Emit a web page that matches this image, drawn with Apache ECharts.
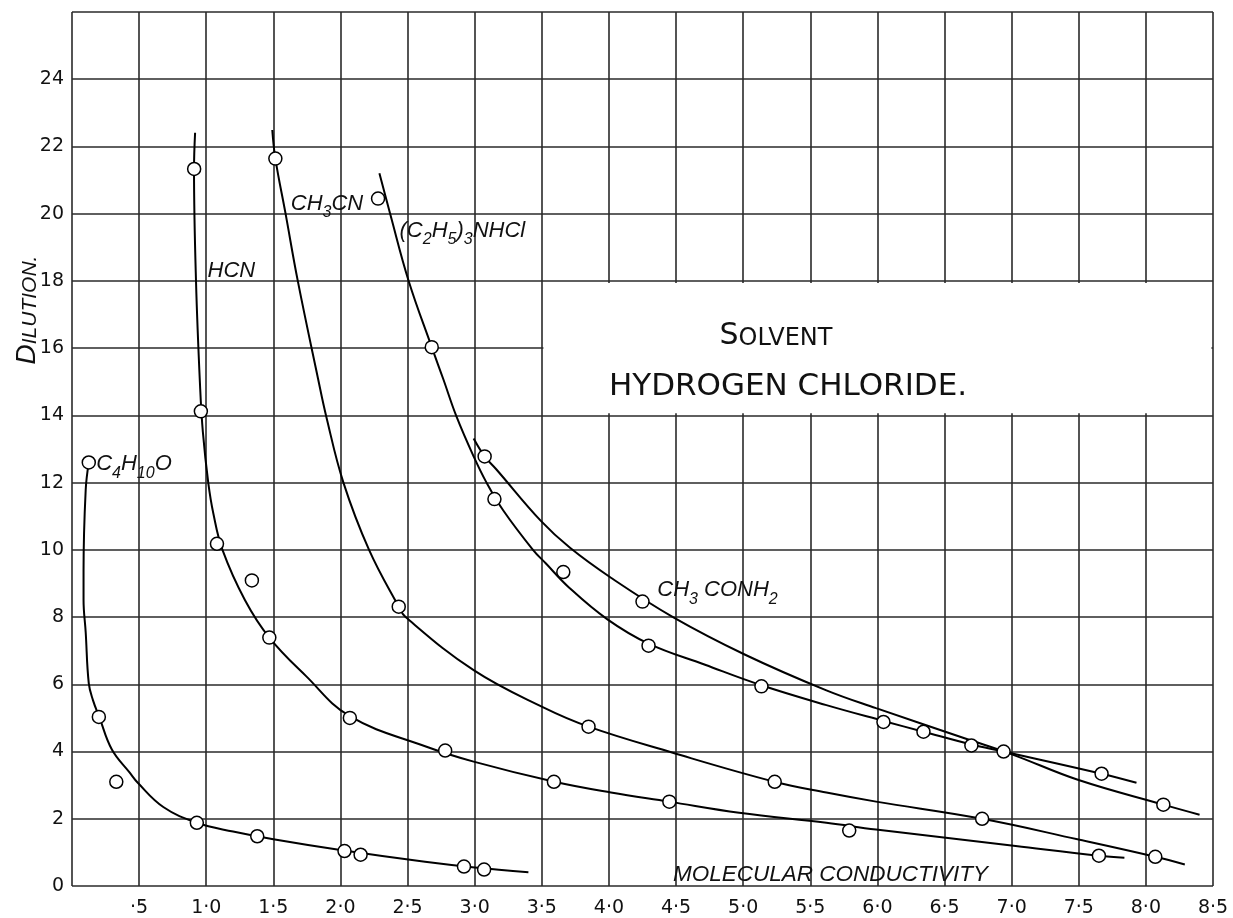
<!DOCTYPE html>
<html>
<head>
<meta charset="utf-8">
<script src="https://cdn.jsdelivr.net/npm/echarts@6/dist/echarts.min.js"></script>
<style>
html,body{margin:0;padding:0;background:#fff;}
#chart{width:1233px;height:918px;}
</style>
</head>
<body>
<div id="chart"></div>
<script>
// ---- tick labels ----
const xTickLabels = ['', '·5', '1·0', '1·5', '2·0', '2·5', '3·0', '3·5', '4·0', '4·5', '5·0', '5·5', '6·0', '6·5', '7·0', '7·5', '8·0', '8·5'];
const yTickLabels = ['0', '2', '4', '6', '8', '10', '12', '14', '16', '18', '20', '22', '24', ''];

// ---- C4H10O ----
const c4h10oPoints = [[0.125,12.6],[0.2,5.03],[0.33,3.1],[0.93,1.88],[1.38,1.48],[2.03,1.04],[2.15,0.93],[2.92,0.58],[3.07,0.49]];
const c4h10oCurve = [[0.125,12.6],[0.102,11.78],[0.086,9.37],[0.086,8.51],[0.102,7.55],[0.125,6.03],[0.156,5.53],[0.203,5.03],[0.297,4.06],[0.43,3.37],[0.49,3.07],[0.68,2.35],[0.93,1.88],[1.2,1.62],[1.5,1.39],[2.0,1.07],[2.63,0.72],[3.0,0.55],[3.4,0.41]];

// ---- HCN ----
const hcnPoints = [[0.91,21.33],[0.96,14.12],[1.08,10.18],[1.34,9.09],[1.47,7.39],[2.07,5.0],[2.78,4.03],[3.59,3.1],[4.45,2.51],[5.79,1.65],[7.65,0.9]];
const hcnCurve = [[0.917,22.41],[0.909,21.33],[0.924,17.97],[0.955,14.79],[0.975,13.5],[1.015,12],[1.053,11.08],[1.121,10],[1.288,8.51],[1.47,7.39],[1.742,6.25],[2.066,5.06],[2.636,4.15],[2.992,3.7],[3.594,3.1],[4.015,2.78],[4.447,2.51],[4.97,2.18],[5.62,1.88],[5.99,1.68],[7.03,1.19],[7.65,0.9],[7.84,0.84]];

// ---- CH3CN ----
const ch3cnPoints = [[1.515,21.64],[2.434,8.31],[3.848,4.74],[5.235,3.1],[6.78,2.0],[8.07,0.87]];
const ch3cnCurve = [[1.492,22.49],[1.515,21.64],[1.591,20],[1.682,18],[1.833,15.09],[1.894,13.97],[2.022,12],[2.213,10],[2.434,8.31],[2.485,8],[2.992,6.42],[3.507,5.32],[3.848,4.74],[4.47,3.97],[5.235,3.1],[5.62,2.78],[5.99,2.51],[6.78,2.0],[7.49,1.39],[8.07,0.87],[8.29,0.64]];

// ---- (C2H5)3NHCl ----
const tehPoints = [[2.28,20.45],[2.68,16.03],[3.147,11.51],[3.66,9.34],[4.295,7.15],[5.136,5.94],[6.045,4.88],[6.343,4.59],[6.70,4.18],[6.94,4.0],[7.67,3.34]];
const tehCurve = [[2.29,21.2],[2.37,20],[2.508,18],[2.68,16.03],[2.765,15.09],[2.864,13.97],[2.992,12.78],[3.088,12],[3.213,11.17],[3.434,10],[3.529,9.6],[3.70,8.89],[3.986,7.94],[4.295,7.21],[4.716,6.58],[5.136,5.97],[5.62,5.38],[6.045,4.91],[6.343,4.59],[6.70,4.21],[6.94,4.0],[7.67,3.34],[7.93,3.07]];

// ---- CH3CONH2 ----
const amidePoints = [[3.074,12.78],[4.25,8.46],[8.13,2.42]];
const amideCurve = [[2.992,13.31],[3.074,12.78],[3.162,12.39],[3.493,10.86],[3.71,10.06],[4.015,9.17],[4.477,8.0],[5.015,6.88],[5.62,5.82],[5.99,5.29],[6.66,4.38],[7.007,3.91],[7.493,3.16],[8.13,2.42],[8.40,2.12]];

// ---- styles ----
const INK = '#111';
const labelFont = 'Liberation Sans';
const richSub = {
  m: { fontFamily: labelFont, fontStyle: 'italic', fontSize: 22, lineHeight: 34, color: INK, verticalAlign: 'middle' },
  s: { fontFamily: labelFont, fontStyle: 'italic', fontSize: 16, color: INK, verticalAlign: 'bottom' }
};

function curveSeries(name, data, labelCoord, labelText) {
  const s = {
    name: name, type: 'line', data: data, smooth: 0.4, symbol: 'none',
    lineStyle: { color: '#000', width: 2 }, z: 3, silent: true, animation: false
  };
  if (labelCoord) {
    s.markPoint = {
      silent: true, animation: false, symbol: 'circle', symbolSize: 0,
      label: { show: true, position: 'right', distance: 0, formatter: labelText, rich: richSub },
      data: [{ coord: labelCoord }]
    };
  }
  return s;
}
function pointSeries(name, data) {
  return {
    name: name, type: 'scatter', data: data, symbol: 'circle', symbolSize: 13,
    itemStyle: { color: '#fff', borderColor: '#000', borderWidth: 1.5, opacity: 1 },
    z: 4, silent: true, animation: false
  };
}

const chart = echarts.init(document.getElementById('chart'), null, { renderer: 'canvas' });
const option = {
  backgroundColor: '#fff',
  animation: false,
  grid: { left: 72, right: 20, top: 12, bottom: 30, containLabel: false },
  xAxis: {
    type: 'value', min: 0, max: 8.5, interval: 0.5,
    axisLine: { show: false }, axisTick: { show: false },
    splitLine: { show: true, showMinLine: true, showMaxLine: true, lineStyle: { color: '#2a2a2a', width: 1.6 } },
    axisLabel: {
      margin: 13, fontSize: 19, fontFamily: 'DejaVu Sans', color: INK,
      formatter: v => { const l = xTickLabels[Math.round(v / 0.5)]; return l === undefined ? '' : l; }
    }
  },
  yAxis: {
    type: 'value', min: 0, max: 26, interval: 2,
    axisLine: { show: false }, axisTick: { show: false },
    splitLine: { show: true, showMinLine: true, showMaxLine: true, lineStyle: { color: '#2a2a2a', width: 1.6 } },
    axisLabel: {
      margin: 8, fontSize: 19, fontFamily: 'DejaVu Sans', color: INK,
      formatter: v => { const l = yTickLabels[Math.round(v / 2)]; return l === undefined ? '' : l; }
    }
  },
  series: [
    {
      name: 'box', type: 'line', data: [], z: 2, silent: true, animation: false,
      markArea: {
        silent: true, animation: false,
        itemStyle: { color: '#fff', borderWidth: 0 },
        data: [[{ coord: [3.512, 14.06] }, { coord: [8.488, 17.94] }]]
      }
    },
    curveSeries('C4H10O', c4h10oCurve, [0.18, 12.55], '{m|C}{s|4}{m|H}{s|10}{m|O}'),
    curveSeries('HCN', hcnCurve, [1.01, 18.3], '{m|HCN}'),
    curveSeries('CH3CN', ch3cnCurve, [1.63, 20.3], '{m|CH}{s|3}{m|CN}'),
    curveSeries('(C2H5)3NHCl', tehCurve, [2.44, 19.5], '{m|(C}{s|2}{m|H}{s|5}{m|)}{s|3}{m|NHCl}'),
    curveSeries('CH3CONH2', amideCurve, [4.36, 8.8], '{m|CH}{s|3}{m| CONH}{s|2}'),
    pointSeries('C4H10O pts', c4h10oPoints),
    pointSeries('HCN pts', hcnPoints),
    pointSeries('CH3CN pts', ch3cnPoints),
    pointSeries('(C2H5)3NHCl pts', tehPoints),
    pointSeries('CH3CONH2 pts', amidePoints)
  ],
  graphic: [
    {
      type: 'text', x: 27, y: 310, rotation: Math.PI / 2, z: 10,
      style: {
        text: '{a|D}{b|ILUTION.}', align: 'center', verticalAlign: 'middle',
        rich: {
          a: { fontFamily: labelFont, fontStyle: 'italic', fontSize: 28, fill: INK, verticalAlign: 'bottom' },
          b: { fontFamily: labelFont, fontStyle: 'italic', fontSize: 21, fill: INK, verticalAlign: 'bottom' }
        }
      }
    },
    {
      type: 'text', x: 776, y: 336, z: 10,
      style: {
        text: '{a|S}{b|OLVENT}', align: 'center', verticalAlign: 'middle',
        rich: {
          a: { fontFamily: 'DejaVu Sans', fontSize: 30, fill: INK, verticalAlign: 'bottom' },
          b: { fontFamily: 'DejaVu Sans', fontSize: 24, fill: INK, verticalAlign: 'bottom' }
        }
      }
    },
    {
      type: 'text', x: 788, y: 387, z: 10,
      style: {
        text: 'HYDROGEN CHLORIDE.', align: 'center', verticalAlign: 'middle',
        fontFamily: 'DejaVu Sans', fontSize: 31, fill: INK
      }
    },
    {
      type: 'text', x: 673, y: 875, z: 10,
      style: {
        text: 'MOLECULAR CONDUCTIVITY', align: 'left', verticalAlign: 'middle',
        fontFamily: labelFont, fontStyle: 'italic', fontSize: 22.5, fill: INK
      }
    }
  ]
};
chart.setOption(option);
</script>
</body>
</html>
